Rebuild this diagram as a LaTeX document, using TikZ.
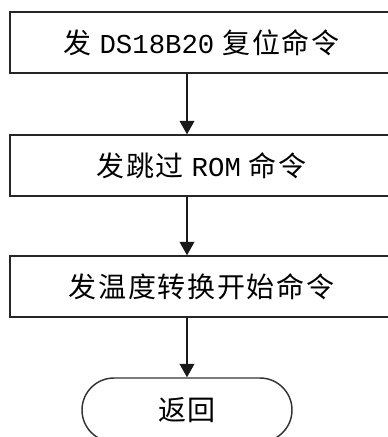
\documentclass[tikz,border=0pt]{standalone}
\usepackage{fontspec}
\setmainfont{Noto Sans CJK SC}[LetterSpace=6]
\newfontfamily\latn{Liberation Mono}
\usetikzlibrary{arrows.meta}
\newcommand{\mylat}[1]{{\latn\fontsize{20.5pt}{22pt}\selectfont #1}}
\begin{document}
\begin{tikzpicture}[x=0.75pt,y=-0.75pt,
  stepbox/.style={draw=black!85,line width=1.1pt,minimum width=383*0.75pt,minimum height=61*0.75pt,inner sep=0pt,font=\fontsize{21pt}{23pt}\selectfont},
  endbox/.style={draw=black!80,line width=1.1pt,minimum width=210*0.75pt,minimum height=64*0.75pt,rounded corners=24pt,inner sep=0pt,font=\fontsize{21pt}{23pt}\selectfont},
  flow/.style={draw=black!90,line width=1.1pt,-{Triangle[length=10pt,width=11pt]}}]
\useasboundingbox (0,0) rectangle (388,437);
\clip (0,0) rectangle (388,437);
\fill[white] (0,0) rectangle (388,437);
\coordinate (ax) at (187,0);
\node[stepbox] (b1) at (201.5,42.5) {\raisebox{-2pt}{发 \mylat{DS18B20} 复位命令}};
\node[stepbox] (b2) at (201.5,165.5) {\raisebox{-2pt}{发跳过 \mylat{ROM} 命令}};
\node[stepbox] (b3) at (201.5,286.5) {\raisebox{-2pt}{发温度转换开始命令}};
\node[endbox] (e) at (187,410) {返回};
\draw[flow] (b1.south -| ax) -- (b2.north -| ax);
\draw[flow] (b2.south -| ax) -- (b3.north -| ax);
\draw[flow] (b3.south -| ax) -- (e.north);
\end{tikzpicture}
\end{document}
